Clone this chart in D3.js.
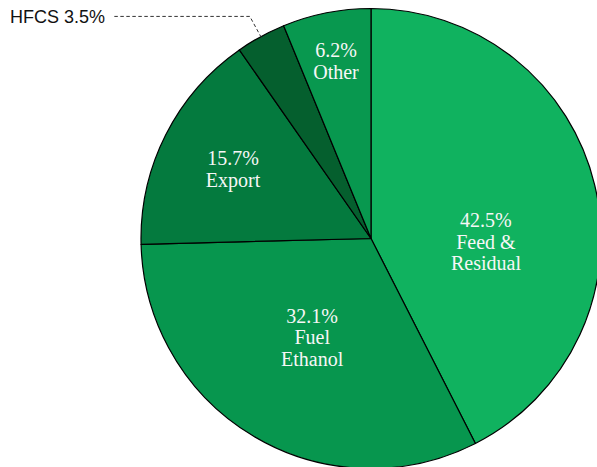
<!DOCTYPE html>
<html>
<head>
<meta charset="utf-8">
<script src="https://cdn.jsdelivr.net/npm/d3@7/dist/d3.min.js"></script>
<style>
  html, body { margin: 0; padding: 0; background: #ffffff; }
  svg { display: block; }
</style>
</head>
<body>
<svg id="chart" width="597" height="467"></svg>
<script>
// ---- data ----
const categories = ["Feed & Residual", "Fuel Ethanol", "Export", "HFCS", "Other"];
const shares = [42.5, 32.1, 15.7, 3.5, 6.2];
const labelLines = [["42.5%", "Feed &", "Residual"], ["32.1%", "Fuel", "Ethanol"], ["15.7%", "Export"], [], ["6.2%", "Other"]];
const outsideLabels = ["", "", "", "HFCS 3.5%", ""];

// ---- layout / style ----
const W = 597, H = 467;
const cx = 371, cy = 238.5, R = 230;
const colors = ["#10b25f", "#07964e", "#047a3e", "#055f2e", "#08984f"];
// label placement: fraction of radius, and angle (radians, clockwise from top) override
const labelRadiusFrac = [0.5, 0.5, 0.672, 0, 0.787];
const labelAngleOverride = [91.5 * Math.PI / 180, null, null, null, null];

const svg = d3.select("#chart");
const g = svg.append("g").attr("transform", `translate(${cx},${cy})`);

const data = categories.map((c, i) => ({ name: c, value: shares[i], i }));
const pie = d3.pie().value(d => d.value).sort(null);
const arcs = pie(data);
const arc = d3.arc().innerRadius(0).outerRadius(R);

g.selectAll("path.slice")
  .data(arcs)
  .enter().append("path")
  .attr("class", "slice")
  .attr("d", arc)
  .attr("fill", d => colors[d.data.i])
  .attr("stroke", "#000")
  .attr("stroke-width", 1.2)
  .attr("stroke-linejoin", "round");

// inside labels
const lineH = 21.5;
arcs.forEach(a => {
  const i = a.data.i;
  const lines = labelLines[i];
  if (!lines.length) return;
  const ang = labelAngleOverride[i] != null ? labelAngleOverride[i] : (a.startAngle + a.endAngle) / 2;
  const rr = R * labelRadiusFrac[i];
  const x = rr * Math.sin(ang), y = -rr * Math.cos(ang);
  const t = g.append("text")
    .attr("text-anchor", "middle")
    .attr("font-family", "'Liberation Serif', 'Times New Roman', serif")
    .attr("font-size", 20)
    .attr("fill", "#f7f7f7");
  const y0 = y - (lines.length - 1) * lineH / 2;
  lines.forEach((ln, k) => {
    t.append("tspan")
      .attr("x", x)
      .attr("y", y0 + k * lineH)
      .attr("dy", "0.35em")
      .text(ln);
  });
});

// outside label with leader line
arcs.forEach(a => {
  const i = a.data.i;
  if (!outsideLabels[i]) return;
  const mid = (a.startAngle + a.endAngle) / 2;
  const p0 = [(R - 1) * Math.sin(mid), -(R - 1) * Math.cos(mid)];
  const p1 = [R * 1.1 * Math.sin(mid), -R * 1.1 * Math.cos(mid)];
  const xEnd = 113 - cx;
  g.append("path")
    .attr("d", d3.line()([p0, p1, [xEnd, p1[1]]]))
    .attr("fill", "none")
    .attr("stroke", "#333")
    .attr("stroke-width", 1)
    .attr("stroke-dasharray", "3.5,2.5");
  g.append("text")
    .attr("x", xEnd - 8)
    .attr("y", p1[1])
    .attr("dy", "0.35em")
    .attr("text-anchor", "end")
    .attr("font-family", "'Liberation Sans', Arial, sans-serif")
    .attr("font-size", 18)
    .attr("fill", "#111")
    .text(outsideLabels[i]);
});
</script>
</body>
</html>
